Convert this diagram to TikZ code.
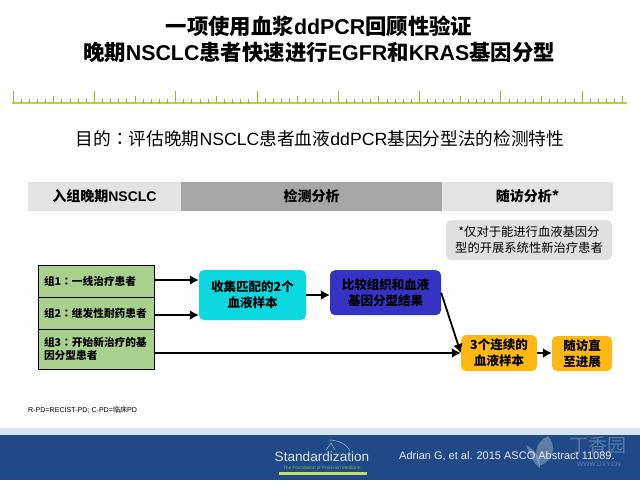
\documentclass[tikz,border=0pt]{standalone}
\usepackage{xcolor}
\usepackage{fontspec}
\setmainfont{Noto Sans CJK SC}
\newfontfamily\latn{Liberation Sans}
\newfontfamily\tcfont{Noto Sans CJK TC}
\newcommand{\la}[1]{{\latn #1}}
\newcommand{\cln}{{\tcfont ：}}
\usetikzlibrary{arrows.meta}
\definecolor{headlight}{HTML}{E3E3E3}
\definecolor{headdark}{HTML}{A6A6A6}
\definecolor{notegray}{HTML}{E0E0E0}
\definecolor{groupgreen}{HTML}{A9D18E}
\definecolor{samplecyan}{HTML}{0CD8E0}
\definecolor{compareblue}{HTML}{3333C4}
\definecolor{followorange}{HTML}{FDB813}
\definecolor{rulegreen}{HTML}{B5D33D}
\definecolor{footblue}{HTML}{1F4A87}
\definecolor{footpale}{HTML}{D9E4F0}
\tikzset{
 head/.style={minimum height=29pt, inner sep=0, font=\bfseries\fontsize{14}{16}\selectfont},
 groupbox/.style={draw=black, line width=1pt, fill=groupgreen, inner xsep=6pt, inner ysep=0, align=left, text width=104pt, font=\bfseries\fontsize{10.7}{13.5}\selectfont},
 stepbox/.style={rounded corners=5pt, inner sep=0, align=center, font=\bfseries\fontsize{12.5}{16}\selectfont},
 link/.style={black, line width=1.8pt, -{Latex[length=9pt,width=10pt]}}
}
\begin{document}
\begin{tikzpicture}[x=1pt,y=-1pt]
\useasboundingbox (0,0) rectangle (640,480);
\fill[white] (0,0) rectangle (640,480);
% title
\node (titleA) at (319,26) {\bfseries\fontsize{21.4}{24}\selectfont 一项使用血浆\la{ddPCR}回顾性验证};
\node (titleB) at (319,52) {\bfseries\fontsize{21.4}{24}\selectfont 晚期\la{NSCLC}患者快速进行\la{EGFR}和\la{KRAS}基因分型};
% ruler
\draw[rulegreen, line width=1.8pt] (12,103) -- (627,103);
\foreach \i in {0,...,75} {
 \pgfmathsetmacro{\tx}{13+8.13*\i}
 \pgfmathsetmacro{\th}{ifthenelse(mod(\i,10)==0,12,ifthenelse(mod(\i,5)==0,7,4))}
 \draw[rulegreen!85!black, line width=.8pt] (\tx,103) --++(0,-\th);
}
\node (aim) at (320,139) {\fontsize{17.7}{20}\selectfont 目的\cln 评估晚期\la{NSCLC}患者血液\la{ddPCR}基因分型法的检测特性};
% header bar
\node[head, fill=headlight, minimum width=153pt] (headA) at (104.5,196.5) {入组晚期\la{NSCLC}};
\node[head, fill=headdark, minimum width=261pt] (headB) at (311.5,196.5) {检测分析};
\node[head, fill=headlight, minimum width=171pt] (headC) at (527.5,196.5) {随访分析*};
\node[rounded corners=5pt, fill=notegray, minimum width=166pt, minimum height=40pt, inner sep=0, align=center, font=\fontsize{12.3}{15.5}\selectfont] (note) at (529,240) {*仅对于能进行血液基因分\\型的开展系统性新治疗患者};
% groups
\node[groupbox, minimum height=32pt] (groupA) at (96,281) {组1\cln 一线治疗患者};
\node[groupbox, minimum height=32pt] (groupB) at (96,313) {组2\cln 继发性耐药患者};
\node[groupbox, minimum height=40pt] (groupC) at (96,349) {组3\cln 开始新治疗的基\\因分型患者};
% steps
\node[stepbox, fill=samplecyan, minimum width=107pt, minimum height=50pt] (sample) at (252.5,295) {收集匹配的2个\\血液样本};
\node[stepbox, fill=compareblue, minimum width=111pt, minimum height=45pt] (compare) at (385.5,292.7) {比较组织和血液\\基因分型结果};
\node[stepbox, fill=followorange, minimum width=76pt, minimum height=36pt] (serial) at (499,353) {3个连续的\\血液样本};
\node[stepbox, fill=followorange, minimum width=60pt, minimum height=35pt] (until) at (582,353.5) {随访直\\至进展};
% arrows
\draw[link] (groupA.east |- 0,280) -- (sample.west |- 0,280);
\draw[link] (groupB.east |- 0,315) -- (sample.west |- 0,315);
\draw[link] (sample.east) -- (compare.west |- sample.east);
\draw[link] (groupC.east |- serial.west) -- (serial.west);
\draw[link] (compare.east) -- (serial.west);
\draw[link] (serial.east) -- (until.west |- serial.east);
% note under the chart
\node[font=\fontsize{7.1}{8}\selectfont, right, inner sep=0] (abbr) at (28,409.5) {\la{R-PD=RECIST-PD; C-PD=}临床\la{PD}};
% footer
\fill[footpale] (0,428) rectangle (640,435);
\fill[footblue] (0,435) rectangle (640,480);
\node[white!90!footblue, font=\fontsize{11}{13}\selectfont, right, inner sep=0] (cite) at (399,456) {\la{Adrian G, et al. 2015 ASCO Abstract 11089.}};
% logo
\node[white!85!footblue, font=\fontsize{13.6}{15}\selectfont, inner sep=0] (logo) at (322,457) {\la{Standardization}};
\node[rulegreen!70!footblue, font=\fontsize{4.6}{5}\selectfont, inner sep=0] (logoB) at (322,467.5) {\la{The Foundation of Precision Medicine}};
\fill[rulegreen!80!white] (279,472) rectangle (367,475);
\draw[white!70!footblue, line width=.4pt] (326,450) -- (331,443) -- (335,450);
\draw[white!70!footblue, line width=.4pt] (329,440) .. controls (338,440) and (347,444) .. (350,451);
% watermark
\fill[white, opacity=.28] (548,436) .. controls (535,442) and (533,456) .. (540,466) .. controls (552,460) and (558,448) .. (548,436);
\fill[white, opacity=.28] (526,445) .. controls (530,456) and (534,464) .. (540,468) .. controls (540,458) and (536,450) .. (526,445);
\node[white, opacity=.25, font=\fontsize{19}{20}\selectfont, inner sep=0] (markA) at (598,445) {丁香园};
\node[white, opacity=.3, font=\fontsize{6.5}{7}\selectfont, inner sep=0] (markB) at (599,464) {\la{WWW.DXY.CN}};
\end{tikzpicture}
\end{document}
